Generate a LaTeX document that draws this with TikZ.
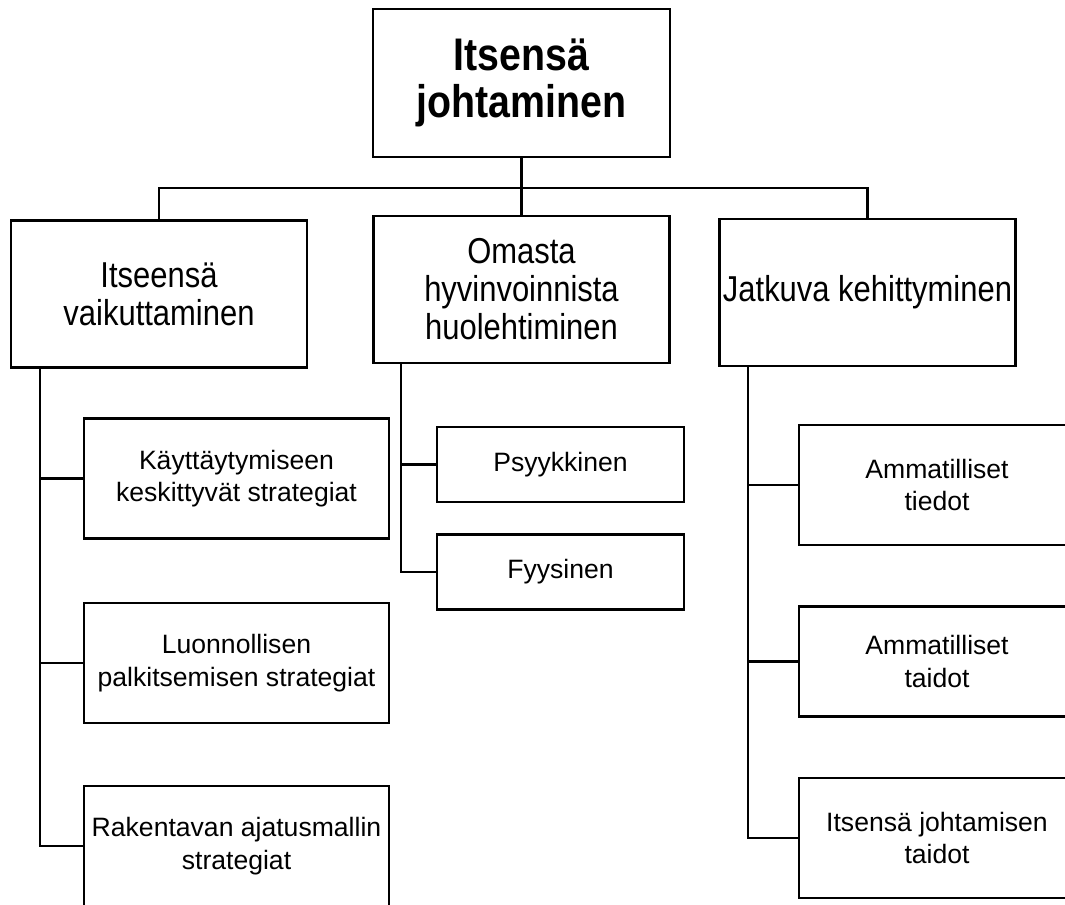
\documentclass[tikz,border=0pt]{standalone}
\usepackage{fontspec}
\setmainfont{Liberation Sans}
\newfontfamily\narrowfont[FakeStretch=0.86]{Liberation Sans}
\usetikzlibrary{positioning}

\tikzset{
  box/.style={draw, line width=1.9pt, inner sep=0pt, align=center},
  topbox/.style={box, minimum width=7.425cm, minimum height=3.7cm,
    font=\narrowfont\fontsize{32.5}{34}\selectfont\bfseries},
  mainbox/.style={box, minimum width=7.4cm, minimum height=3.68cm,
    font=\narrowfont\fontsize{25.6}{27}\selectfont},
  subbox/.style={box, minimum height=3cm,
    font=\fontsize{18.9}{23.2}\selectfont},
  link/.style={line width=1.6pt}
}

\begin{document}
\begin{tikzpicture}[x=0.025cm, y=-0.025cm]
    \useasboundingbox (0,0) rectangle (1065,904);
    \clip (0,0) rectangle (1065,904);

    % Top
    \node[topbox] (root) at (521.5,83) {Itsensä\\johtaminen};

    % Second level
    \node[mainbox] (vaik) at (159,294) {Itseensä\\vaikuttaminen};
    \node[mainbox] (hyvi) at (521.5,289.5) {Omasta\\hyvinvoinnista\\huolehtiminen};
    \node[mainbox] (kehi) at (867.5,292.5) {Jatkuva kehittyminen};

    % Left branch
    \node[subbox, minimum width=7.625cm] (kay) at (236.5,478.5) {Käyttäytymiseen\\keskittyvät strategiat};
    \node[subbox, minimum width=7.625cm] (luo) at (236.5,663) {Luonnollisen\\palkitsemisen strategiat};
    \node[subbox, minimum width=7.625cm] (rak) at (236.5,846) {Rakentavan ajatusmallin\\strategiat};

    % Middle branch
    \node[subbox, minimum width=6.175cm, minimum height=1.875cm] (psy) at (560.5,464.5) {Psyykkinen};
    \node[subbox, minimum width=6.175cm, minimum height=1.875cm] (fyy) at (560.5,572) {Fyysinen};

    % Right branch
    \node[subbox, minimum width=6.9cm] (tie) at (937,485) {Ammatilliset\\tiedot};
    \node[subbox, minimum width=6.9cm, minimum height=2.75cm] (tai) at (937,661.5) {Ammatilliset\\taidot};
    \node[subbox, minimum width=6.9cm] (itj) at (937,838) {Itsensä johtamisen\\taidot};

    % Connectors
    \draw[link] (root.south) -- ++(0,30) coordinate (bus) -| (vaik.north);
    \draw[link] (bus) -| (kehi.north);
    \draw[link] (bus) -- (hyvi.north);

    \draw[link] ([xshift=0.75cm]vaik.south west) coordinate (lt) |- (rak.west);
    \foreach \n in {kay,luo}
        \draw[link] (lt |- \n.west) -- (\n.west);

    \draw[link] ([xshift=0.725cm]hyvi.south west) coordinate (mt) |- (fyy.west);
    \draw[link] (mt |- psy.west) -- (psy.west);

    \draw[link] ([xshift=0.75cm]kehi.south west) coordinate (rt) |- (itj.west);
    \foreach \n in {tie,tai}
        \draw[link] (rt |- \n.west) -- (\n.west);
\end{tikzpicture}
\end{document}
